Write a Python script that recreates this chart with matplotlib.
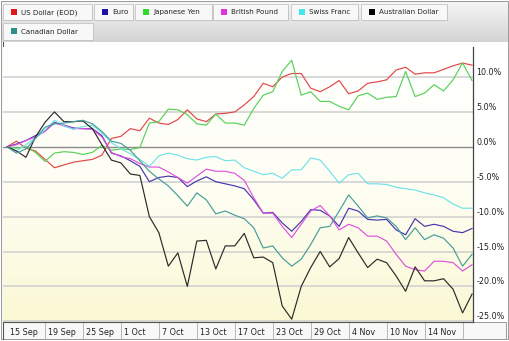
import numpy as np
import pandas as pd
import matplotlib
matplotlib.use('Agg')
import matplotlib.pyplot as plt
import matplotlib.transforms as mtransforms
from matplotlib.patches import Rectangle
from matplotlib.colors import LinearSegmentedColormap

# trading days 15 Sep - 21 Nov 2008, % change from the first day
dates = pd.bdate_range('2008-09-15', '2008-11-21')

usd = [0, 0.8, -0.2, -0.6, -1.8, -3.0, -2.6, -2.2, -2.0, -1.8,
       -1.2, 1.2, 1.5, 2.6, 2.3, 4.1, 3.4, 3.2, 3.9, 5.3,
       4.0, 3.6, 4.7, 4.8, 5.0, 6.0, 7.2, 9.1, 8.6, 10.0,
       10.5, 10.5, 8.4, 7.9, 8.6, 9.5, 7.6, 8.0, 9.1, 9.3,
       9.6, 11.0, 11.4, 10.4, 10.6, 10.6, 11.1, 11.6, 12.0, 11.7]
eur = [0, 0.4, 0.9, 1.6, 2.3, 3.5, 3.1, 2.7, 2.6, 2.6,
       1.6, -0.9, -1.3, -2.0, -2.8, -5.0, -4.4, -4.2, -4.4, -5.7,
       -4.9, -4.3, -5.0, -5.3, -5.6, -6.0, -7.6, -9.5, -9.4, -10.9,
       -12.1, -10.7, -9.0, -9.1, -9.9, -11.4, -8.8, -9.2, -10.4, -10.5,
       -10.4, -11.9, -12.6, -10.3, -11.4, -11.1, -11.4, -12.1, -12.3, -11.7]
jpy = [0, -0.2, 0.0, -0.8, -2.1, -0.9, -0.7, -0.8, -1.1, -0.8,
       0.2, -0.5, -0.3, -0.4, -0.1, 3.4, 3.6, 5.4, 5.3, 4.6,
       3.3, 3.1, 4.7, 3.4, 3.4, 3.1, 5.5, 7.4, 7.9, 10.8,
       12.4, 7.4, 7.9, 6.5, 6.5, 5.8, 5.3, 7.3, 7.7, 6.8,
       7.1, 7.2, 10.8, 7.2, 7.7, 8.9, 8.0, 9.6, 12.0, 9.5]
gbp = [0, 0.3, 0.9, 1.4, 2.2, 3.4, 3.0, 2.6, 2.6, 2.5,
       1.4, -0.8, -1.4, -1.7, -2.4, -2.9, -2.9, -3.6, -4.4, -5.2,
       -4.2, -3.2, -3.5, -3.5, -3.8, -4.8, -7.3, -9.5, -9.5, -11.4,
       -13.0, -11.1, -9.2, -8.4, -9.9, -11.9, -11.1, -11.6, -12.8, -12.8,
       -13.5, -15.4, -17.1, -17.6, -17.8, -16.4, -16.4, -16.6, -17.8, -16.9]
chf = [0, -0.6, 0.3, 1.3, 2.4, 3.8, 3.0, 2.5, 2.9, 3.1,
       2.0, 0.6, -0.3, -1.0, -1.8, -2.8, -1.3, -0.9, -1.2, -1.7,
       -1.9, -1.5, -1.4, -2.0, -1.9, -3.0, -3.5, -4.0, -3.8, -4.5,
       -3.3, -3.3, -1.6, -1.9, -3.5, -5.2, -4.0, -3.8, -5.3, -5.3,
       -5.4, -5.8, -6.0, -6.2, -6.6, -6.9, -7.3, -8.2, -8.8, -8.8]
aud = [0, -0.6, -1.5, 1.4, 3.5, 5.0, 3.6, 3.6, 3.7, 2.6,
       0.3, -1.9, -2.3, -3.9, -4.1, -10.0, -12.3, -17.1, -15.2, -20.0,
       -13.5, -13.4, -17.5, -14.2, -14.2, -12.4, -15.9, -15.8, -16.6, -22.8,
       -24.7, -20.0, -17.3, -15.0, -17.2, -16.0, -13.0, -15.2, -17.3, -16.1,
       -16.6, -18.5, -20.7, -17.2, -19.2, -19.2, -18.9, -20.4, -23.8, -21.1]
cad = [0, -0.9, -0.3, 1.2, 2.8, 3.3, 3.4, 3.6, 3.8, 3.3,
       2.2, 0.8, 0.5, -0.5, -2.0, -3.5, -4.6, -5.6, -7.0, -8.5,
       -6.6, -7.6, -9.6, -9.2, -9.8, -10.3, -11.6, -14.5, -14.2, -15.9,
       -17.1, -16.1, -14.0, -11.6, -11.4, -9.2, -6.9, -8.5, -10.2, -9.9,
       -10.2, -11.4, -13.3, -11.6, -13.3, -12.6, -13.1, -14.5, -17.1, -15.4]

names = ['US Dollar (EOD)', 'Euro', 'Japanese Yen', 'British Pound',
         'Swiss Franc', 'Australian Dollar', 'Canadian Dollar']
series = [usd, eur, jpy, gbp, chf, aud, cad]
line_colors = ['#e04848', '#4636b0', '#58d058', '#de52de', '#70e2ea', '#2a2a2a', '#479c9c']
key_colors = ['#e01818', '#2010a8', '#30d830', '#e030e0', '#40e8f0', '#000000', '#2a9088']
y_ticks = [10, 5, 0, -5, -10, -15, -20, -25]

W, H = 510, 341
fig = plt.figure(figsize=(W / 100, H / 100), dpi=100)
fig.patch.set_facecolor('white')
plt.rcParams['font.family'] = 'DejaVu Sans'


def frac(x0, y0, x1, y1):
    # pixel box (top-left origin) -> figure fraction rect
    return [x0 / W, 1 - y1 / H, (x1 - x0) / W, (y1 - y0) / H]


# decoration layer in pixel coordinates
deco = fig.add_axes([0, 0, 1, 1], zorder=0)
deco.set_xlim(0, W)
deco.set_ylim(H, 0)
deco.axis('off')

# header band with grey gradient
hdr = np.linspace(0, 1, 64).reshape(-1, 1)
hdr_cmap = LinearSegmentedColormap.from_list('hdr', ['#f6f6f6', '#d4d4d4'])
deco.imshow(hdr, cmap=hdr_cmap, extent=(1, W - 1, 42, 1), aspect='auto', zorder=0)

# legend buttons
boxes = [(3, 4, 92, 20), (94, 4, 133, 20), (135, 4, 212, 20), (213, 4, 288, 20),
         (291, 4, 358, 20), (361, 4, 447, 20), (3, 23, 93, 40)]
for (x0, y0, x1, y1), name, kc in zip(boxes, names, key_colors):
    deco.add_patch(Rectangle((x0 + 1, y0 + 1), x1 - x0, y1 - y0, facecolor='#a8a8a8',
                             edgecolor='none', zorder=1))
    deco.add_patch(Rectangle((x0, y0), x1 - x0, y1 - y0, facecolor='#f8f8f8',
                             edgecolor='#c4c4c4', lw=0.6, zorder=2))
    ym = (y0 + y1) / 2
    deco.add_patch(Rectangle((x0 + 8, ym - 3.2), 6, 6, facecolor=kc,
                             edgecolor='none', zorder=3))
    deco.text(x0 + 18, ym + 0.3, name, fontsize=5.1, color='#222222',
              va='center', ha='left', zorder=3)

# x-axis label strip and outer frame
deco.add_patch(Rectangle((3, 322), W - 7, 17, facecolor='#f8f8f8',
                         edgecolor='#8a8a8a', lw=0.6, zorder=1))
deco.add_patch(Rectangle((1, 1), W - 3, H - 3, facecolor='none',
                         edgecolor='#9a9a9a', lw=0.7, zorder=1))
deco.plot([3, 3], [42, 339], color='#555555', lw=0.8, zorder=2)

deco.text(7, 54, '15 September 2008 - 21 November 2008', fontsize=5.6,
          color='#222222', va='center', ha='left')
deco.text(469, 54, 'Copyright, StockCharts.com', fontsize=5.4,
          color='#c4c4c4', va='center', ha='right', zorder=3)

# price panel
x = np.arange(len(dates))
ax = fig.add_axes(frac(3, 47, 473, 322), zorder=2)
ax.set_facecolor('none')
ax.set_xlim(-0.42, 49.1)
ax.set_ylim(-25.1, 14.3)

bg = np.linspace(0, 1, 256).reshape(-1, 1)
bg_cmap = LinearSegmentedColormap.from_list('bg', ['#ffffff', '#fefef4', '#fbf8d4'])
ax.imshow(bg, cmap=bg_cmap, extent=(0, 1, 0, 1), transform=ax.transAxes,
          aspect='auto', zorder=0)

for v in y_ticks:
    if v == 0:
        ax.axhline(v, color='#8a8a8a', lw=1.0, zorder=1)
    else:
        ax.axhline(v, color='#cfcfcf', lw=1.1, zorder=1)

for vals, c in zip(series, line_colors):
    ax.plot(x, vals, color=c, lw=0.85, zorder=3)

for side in ['top', 'left']:
    ax.spines[side].set_visible(False)
ax.spines['right'].set_color('#444444')
ax.spines['right'].set_linewidth(0.9)
ax.spines['bottom'].set_color('#555555')
ax.spines['bottom'].set_linewidth(0.8)

ax.yaxis.tick_right()
ax.set_yticks(y_ticks)
ax.set_yticklabels([f'{v:.1f}%' for v in y_ticks])
ax.tick_params(axis='y', length=0, pad=2.5, labelsize=5.8, labelcolor='#222222')
for lab in ax.get_yticklabels():
    lab.set_verticalalignment('bottom')

tick_idx = list(x[0:48:4])
ax.set_xticks(tick_idx)
ax.set_xticklabels([f'{d.day} {d:%b}' for d in dates[tick_idx]], ha='left')
ax.tick_params(axis='x', length=0, pad=4.5, labelsize=5.8, labelcolor='#222222')
shift = mtransforms.ScaledTranslation(0.03, 0, fig.dpi_scale_trans)
for lab in ax.get_xticklabels():
    lab.set_transform(lab.get_transform() + shift)

# separators in the date strip
ax.vlines(x[4::4], -17 / 275, 0, transform=ax.get_xaxis_transform(),
          color='#b8b8b8', lw=0.7, clip_on=False)

fig.savefig('out.png', dpi=100)
